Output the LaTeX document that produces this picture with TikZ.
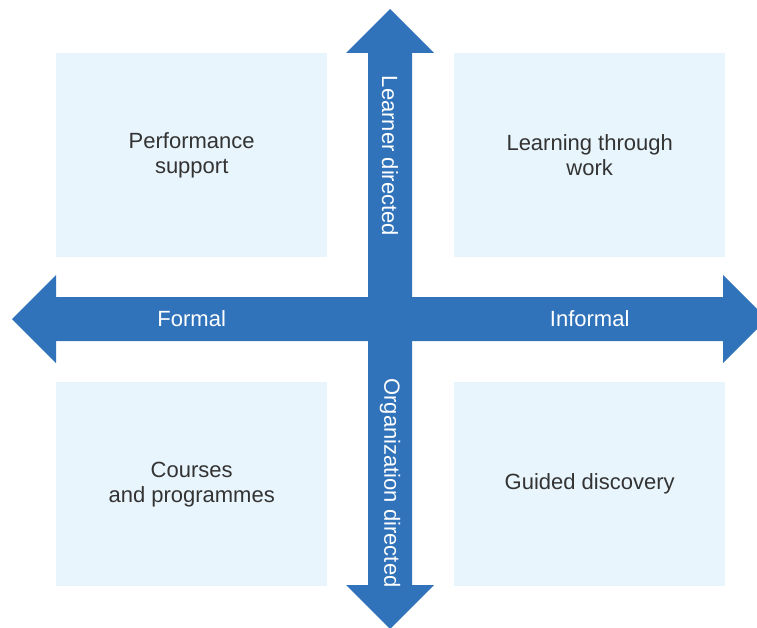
\documentclass[tikz,border=0pt]{standalone}
\usepackage{fontspec}
\setmainfont{Liberation Sans}
\definecolor{pfeilblau}{HTML}{3173BA}
\definecolor{feldblau}{HTML}{E8F5FC}
\definecolor{schrift}{HTML}{333333}
\begin{document}
\begin{tikzpicture}[x=1pt, y=-1pt,
        feld/.style={fill=feldblau, minimum width=271pt, minimum height=204pt, anchor=north west,
            inner sep=0pt, align=center, text=schrift, font=\fontsize{22}{25}\selectfont},
        achse/.style={text=white, inner sep=0pt, font=\fontsize{22}{25}\selectfont}]
            \useasboundingbox (0, 0) rectangle (757, 628);

            % Felder
            \node[feld] (perf) at (56, 53) {Performance\\support};
            \node[feld] (work) at (454, 53) {Learning through\\work};
            \node[feld] (kurs) at (56, 382) {Courses\\and programmes};
            \node[feld] (disc) at (454, 382) {Guided discovery};

            % Pfeile
            \fill[pfeilblau] (12, 319) -- (56, 275) -- (56, 297) -- (723, 297) -- (723, 275) -- (767, 319)
                -- (723, 363) -- (723, 341) -- (56, 341) -- (56, 363) -- cycle;
            \fill[pfeilblau] (390, 9) -- (434, 53) -- (412, 53) -- (412, 585) -- (434, 585) -- (390, 629)
                -- (346, 585) -- (368, 585) -- (368, 53) -- (346, 53) -- cycle;

            % Beschriftungen
            \node[achse] (formal) at (perf.center |- 0, 319) {Formal};
            \node[achse] (informal) at (work.center |- 0, 319) {Informal};
            \node[achse, rotate=-90] (learner) at (390, 156) {Learner directed};
            \node[achse, rotate=-90] (org) at (390, 483) {Organization directed};
        \end{tikzpicture}
\end{document}
